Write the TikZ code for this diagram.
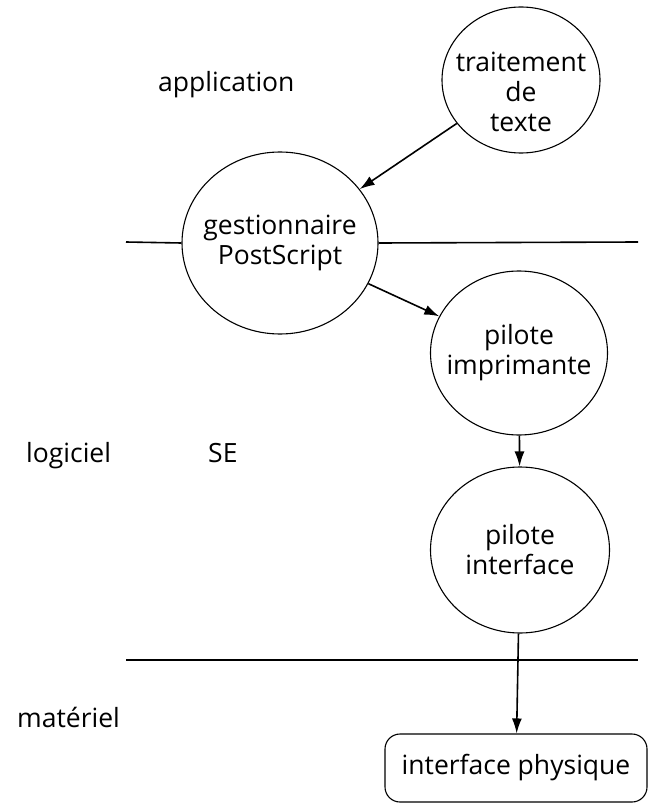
\documentclass[tikz,border=0pt]{standalone}
\usepackage{fontspec}
\setmainfont{Open Sans}
\usetikzlibrary{shapes.geometric,arrows.meta}
\tikzset{
  txtfont/.style={font=\fontsize{26.5}{30}\selectfont},
  % the ellipse keeps its given size; the text sits on it as a centred label
  proc/.style 2 args={ellipse, draw, line width=1.1pt, inner sep=0pt,
    minimum width=#1, minimum height=#2},
  proctext/.style={align=center, txtfont, inner sep=0pt},
  layerlabel/.style={anchor=base west, inner sep=0pt, txtfont},
  flow/.style={line width=1.6pt, -{Latex[length=15pt,width=10pt]}},
  sep/.style={line width=1.6pt},
}
\begin{document}
\begin{tikzpicture}[x=1pt,y=-1pt]
\useasboundingbox (0,0) rectangle (650,805);

% processes
\node[proc={158pt}{146pt},
      label={[proctext, yshift=-12pt]center:traitement\\de\\texte}] (txt) at (521,80) {};
\node[proc={196pt}{182pt},
      label={[proctext]center:gestionnaire\\PostScript}] (ps) at (280,243) {};
\node[proc={177pt}{164pt},
      label={[proctext]center:pilote\\imprimante}] (imp) at (519,353) {};
\node[proc={179pt}{166pt},
      label={[proctext]center:pilote\\interface}] (itf) at (520,550) {};

% hardware
\node[draw, line width=1.1pt, rounded corners=15pt, minimum width=262pt, minimum height=68pt,
      inner sep=0pt, txtfont] (phy) at (516,768) {interface physique};

% layer separators
\coordinate (l1a) at (126,242);
\coordinate (l1b) at (638,242);
\coordinate (l2a) at (126,660);
\coordinate (l2b) at (638,660);
\draw[sep] (l1a) -- (ps.west);
\draw[sep] (ps.east) -- (l1b);
\draw[sep] (l2a) -- (l2b);

% layer names
\node[layerlabel] (app) at (158,92) {application};
\node[layerlabel] (log) at (26,462) {logiciel};
\node[layerlabel] (se) at (208,462) {SE};
\node[layerlabel] (mat) at (17,727) {matériel};

% data flow
\draw[flow] (txt) -- (ps);
\draw[flow] (ps) -- (imp);
\draw[flow] (imp) -- (itf);
\draw[flow] (itf) -- (phy);
\end{tikzpicture}
\end{document}
